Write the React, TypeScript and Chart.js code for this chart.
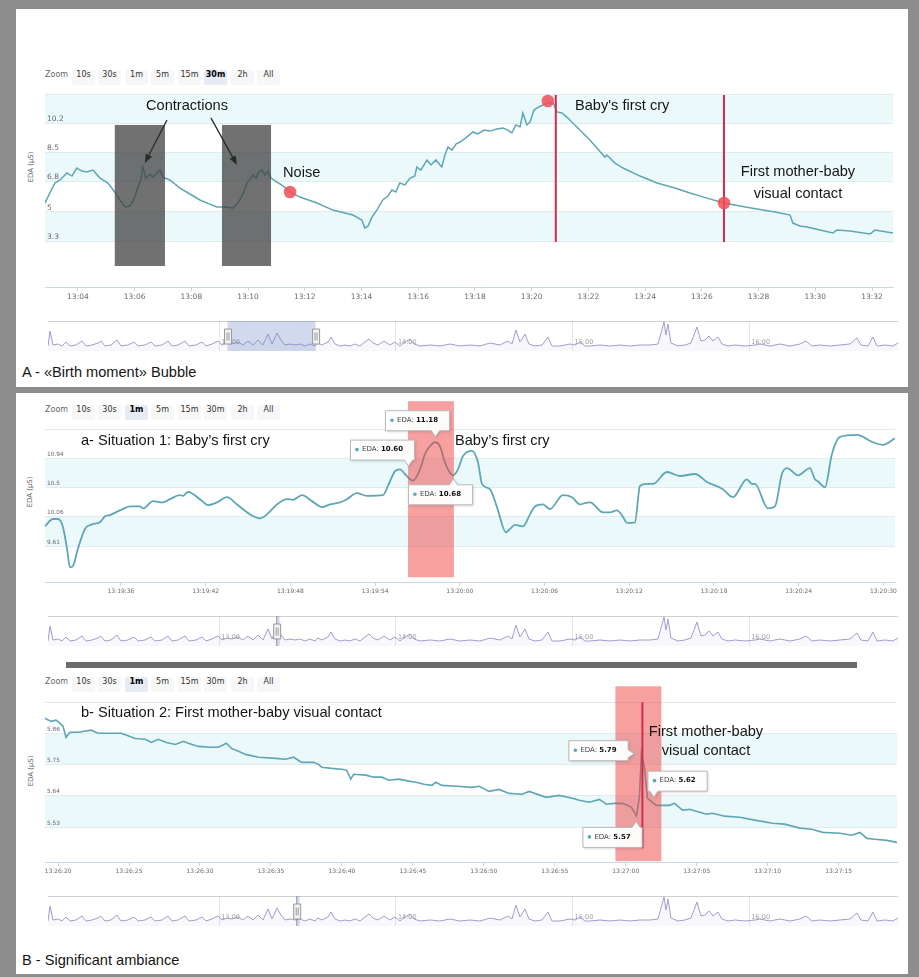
import React, { useEffect, useRef } from "react";
import { Chart, registerables } from "chart.js";

Chart.register(...registerables);
Chart.defaults.font.family = '"DejaVu Sans", sans-serif';

// ---------------- Panel A : «Birth moment» (minutes after 13:00, EDA µS)
const birthMinutes = [
  2.84, 3.01, 3.19, 3.37, 3.61, 3.79, 3.96, 4.14, 4.32, 4.53,
  4.78, 5.06, 5.3, 5.48, 5.66, 5.83, 5.97, 6.08, 6.22, 6.29,
  6.4, 6.54, 6.64, 6.79, 6.89, 7.0, 7.24, 7.6, 7.95, 8.3,
  8.65, 8.9, 9.18, 9.47, 9.61, 9.71, 9.85, 9.96, 10.06, 10.17,
  10.28, 10.38, 10.49, 10.59, 10.7, 10.81, 11.02, 11.23, 11.48, 11.83,
  12.43, 12.99, 13.7, 14.01, 14.12, 14.23, 14.37, 14.54, 14.75, 14.93,
  15.07, 15.21, 15.35, 15.53, 15.71, 15.88, 15.95, 16.09, 16.31, 16.45,
  16.62, 16.83, 16.94, 17.05, 17.19, 17.33, 17.47, 17.68, 17.93, 18.1,
  18.32, 18.53, 18.77, 18.99, 19.16, 19.3, 19.44, 19.59, 19.69, 19.83,
  19.94, 20.08, 20.18, 20.32, 20.47, 20.64, 20.78, 20.89, 21.07, 21.24,
  21.45, 21.7, 22.05, 22.3, 22.58, 22.65, 22.94, 23.22, 23.82, 24.42,
  25.05, 25.58, 26.18, 26.78, 27.34, 27.94, 28.58, 29.11, 29.21, 29.46,
  29.71, 30.16, 30.62, 30.76, 31.22, 31.93, 32.1, 32.74,
];
const birthEda = [
  5.52, 6.11, 6.69, 6.87, 7.28, 7.1, 7.57, 7.39, 7.34, 7.45,
  6.98, 6.69, 6.17, 5.7, 5.29, 5.35, 5.7, 6.28, 6.87, 7.63,
  6.98, 7.22, 7.04, 7.28, 7.45, 7.04, 6.87, 6.4, 6.05, 5.7,
  5.46, 5.29, 5.29, 5.23, 5.46, 5.7, 6.17, 6.69, 6.87, 7.16,
  6.98, 7.34, 7.45, 7.16, 7.39, 6.98, 6.75, 6.52, 6.17, 5.87,
  5.52, 5.11, 4.82, 4.53, 4.06, 4.18, 4.7, 5.11, 5.7, 5.93,
  6.28, 6.17, 6.69, 6.58, 6.98, 7.1, 7.63, 7.45, 8.04, 7.75,
  8.04, 7.63, 8.33, 8.8, 8.62, 8.97, 9.09, 9.33, 9.68, 9.56,
  9.79, 9.73, 9.85, 9.91, 9.79, 9.62, 10.09, 9.97, 10.79, 10.09,
  10.26, 10.96, 11.08, 11.2, 11.31, 11.43, 11.31, 10.85, 10.79, 10.55,
  10.2, 9.79, 9.21, 8.74, 8.21, 8.33, 7.86, 7.57, 7.1, 6.69,
  6.4, 6.11, 5.81, 5.52, 5.35, 5.17, 5.0, 4.82, 4.35, 4.18,
  4.12, 3.94, 3.77, 3.94, 3.88, 3.71, 3.94, 3.77,
];
const birthTickMinutes = [4, 6, 8, 10, 12, 14, 16, 18, 20, 22, 24, 26, 28, 30, 32];
const birthTickLabels = ["13:04", "13:06", "13:08", "13:10", "13:12", "13:14", "13:16", "13:18", "13:20", "13:22", "13:24", "13:26", "13:28", "13:30", "13:32"];
const birthYTicks = [3.3, 5, 6.8, 8.5, 10.2, 11.9];
const birthYLabels = ["3.3", "5", "6.8", "8.5", "10.2", ""];
const birthBandLow = [3.3, 6.8, 10.2];
const birthBandHigh = [5, 8.5, 11.9];
const contractionStart = [5.3, 9.08];
const contractionEnd = [7.07, 10.81];
const contractionHigh = 10.09;
const contractionLow = 1.84;
const arrowFromMin = [7.14, 8.69];
const arrowFromEda = [10.38, 10.5];
const arrowToMin = [6.36, 9.61];
const arrowToEda = [7.86, 7.75];
const birthEventMinutes = [20.85, 26.78];
const birthEventTop = 11.84;
const birthEventBottom = 3.24;
const markerMinutes = [11.48, 20.57, 26.78];
const markerEda = [6.17, 11.49, 5.52];

// ---------------- Panel B-a : first cry (seconds after 13:19:00)
const cryTimes = [
  30.62, 31.18, 31.54, 31.89, 32.18, 32.39, 32.6, 32.95, 33.45, 33.95,
  34.51, 34.87, 35.22, 35.93, 36.64, 37.35, 37.56, 38.27, 38.97, 39.47,
  40.18, 40.39, 40.75, 41.59, 42.16, 42.8, 43.51, 44.22, 45.14, 45.84,
  46.34, 47.05, 47.76, 48.18, 48.82, 49.53, 50.24, 50.8, 51.51, 52.01,
  52.71, 53.42, 54.56, 54.91, 55.4, 55.76, 56.11, 56.68, 57.18, 57.53,
  57.88, 58.24, 58.59, 58.88, 59.16, 59.51, 59.87, 60.22, 60.86, 61.28,
  61.57, 62.13, 62.63, 63.27, 63.55, 63.9, 64.47, 64.97, 65.32, 65.89,
  66.38, 67.3, 67.94, 68.51, 68.86, 69.22, 70.14, 70.64, 71.13, 71.56,
  71.84, 72.4, 72.76, 73.25, 73.68, 74.67, 75.59, 76.65, 77.5, 78.63,
  79.34, 80.33, 80.69, 80.9, 81.82, 82.32, 82.81, 83.17, 83.95, 84.8,
  85.15, 85.36, 85.86, 86.35, 86.92, 88.12, 89.26, 89.97, 90.82,
];
const cryEda = [
  9.91, 10.02, 10.02, 9.9, 9.57, 9.29, 9.31, 9.57, 9.87, 9.94,
  9.97, 10.06, 10.08, 10.15, 10.21, 10.21, 10.18, 10.29, 10.27, 10.32,
  10.38, 10.37, 10.43, 10.32, 10.23, 10.27, 10.35, 10.24, 10.09, 10.03,
  10.09, 10.24, 10.32, 10.31, 10.38, 10.29, 10.2, 10.24, 10.27, 10.32,
  10.41, 10.37, 10.38, 10.52, 10.74, 10.77, 10.7, 10.6, 10.77, 11.0,
  11.12, 11.18, 11.12, 10.92, 10.77, 10.68, 10.77, 10.97, 11.05, 10.88,
  10.55, 10.47, 10.2, 9.82, 9.87, 9.93, 9.91, 10.09, 10.21, 10.24,
  10.17, 10.38, 10.35, 10.24, 10.26, 10.27, 10.12, 10.12, 10.15, 10.05,
  9.96, 9.97, 10.52, 10.55, 10.55, 10.73, 10.67, 10.7, 10.58, 10.47,
  10.35, 10.62, 10.55, 10.55, 10.18, 10.21, 10.7, 10.79, 10.68, 10.79,
  10.62, 10.59, 10.5, 11.0, 11.26, 11.29, 11.18, 11.14, 11.24,
];
const cryTickSeconds = [36, 42, 48, 54, 60, 66, 72, 78, 84, 90];
const cryTickLabels = ["13:19:36", "13:19:42", "13:19:48", "13:19:54", "13:20:00", "13:20:06", "13:20:12", "13:20:18", "13:20:24", "13:20:30"];
const cryYTicks = [9.61, 10.06, 10.5, 10.94, 11.38];
const cryYLabels = ["9.61", "10.06", "10.5", "10.94", ""];
const cryBandLow = [9.61, 10.5];
const cryBandHigh = [10.06, 10.94];
const cryHighlight = [56.33, 59.58];
const cryHighlightEda = [9.14, 11.8];
const cryTipTimes = [58.24, 56.68, 59.51];
const cryTipEda = [11.18, 10.6, 10.68];

// ---------------- Panel B-b : first visual contact (seconds after 13:26:00)
const contactTimes = [
  19.08, 19.51, 19.86, 20.14, 20.35, 20.56, 20.85, 21.41, 22.33, 22.82,
  24.45, 25.44, 26.14, 26.57, 27.06, 27.63, 28.26, 28.83, 29.18, 29.89,
  30.73, 31.3, 31.86, 32.22, 32.71, 33.21, 34.12, 35.32, 36.03, 36.6,
  37.16, 38.01, 38.36, 38.57, 39.28, 39.99, 40.34, 40.62, 40.83, 41.68,
  42.25, 42.81, 43.31, 44.01, 44.72, 45.21, 45.78, 46.34, 46.62, 47.05,
  48.11, 49.17, 49.66, 50.37, 51.07, 51.78, 52.7, 53.19, 54.39, 55.31,
  56.23, 56.72, 57.43, 58.14, 58.63, 59.2, 59.76, 60.11, 60.4, 60.75,
  60.96, 61.1, 61.31, 61.53, 61.81, 62.16, 63.08, 63.43, 64.0, 64.49,
  65.2, 65.69, 66.12, 66.96, 68.02, 69.08, 70.35, 71.2, 72.26, 73.11,
  73.88, 75.08, 75.93, 76.5, 76.99, 77.56, 78.4, 79.11,
];
const contactEda = [
  5.913, 5.902, 5.906, 5.895, 5.885, 5.846, 5.864, 5.864, 5.871, 5.86,
  5.86, 5.842, 5.839, 5.828, 5.839, 5.828, 5.821, 5.832, 5.825, 5.814,
  5.811, 5.811, 5.825, 5.807, 5.797, 5.786, 5.776, 5.772, 5.769, 5.776,
  5.758, 5.758, 5.751, 5.741, 5.737, 5.734, 5.73, 5.699, 5.716, 5.713,
  5.706, 5.706, 5.695, 5.699, 5.692, 5.688, 5.681, 5.677, 5.688, 5.677,
  5.674, 5.67, 5.674, 5.656, 5.663, 5.649, 5.646, 5.656, 5.635, 5.642,
  5.632, 5.625, 5.618, 5.628, 5.611, 5.614, 5.614, 5.607, 5.6, 5.57,
  5.635, 5.79, 5.741, 5.632, 5.62, 5.607, 5.607, 5.614, 5.59, 5.593,
  5.583, 5.576, 5.579, 5.569, 5.565, 5.555, 5.544, 5.541, 5.527, 5.523,
  5.512, 5.509, 5.502, 5.512, 5.491, 5.488, 5.484, 5.477,
];
const contactTickSeconds = [20, 25, 30, 35, 40, 45, 50, 55, 60, 65, 70, 75];
const contactTickLabels = ["13:26:20", "13:26:25", "13:26:30", "13:26:35", "13:26:40", "13:26:45", "13:26:50", "13:26:55", "13:27:00", "13:27:05", "13:27:10", "13:27:15"];
const contactYTicks = [5.53, 5.64, 5.75, 5.86, 5.97];
const contactYLabels = ["5.53", "5.64", "5.75", "5.86", ""];
const contactBandLow = [5.53, 5.75];
const contactBandHigh = [5.64, 5.86];
const contactHighlight = [59.27, 62.51];
const contactHighlightEda = [5.411, 6.025];
const contactEventSecond = 61.17;
const contactEventEda = [5.456, 5.969];
const contactTipTimes = [61.1, 61.81, 60.75];
const contactTipEda = [5.79, 5.62, 5.57];

// ---------------- Navigator (minutes after 12:00, arbitrary height)
const navMinutes = [
  1.87, 2.55, 3.57, 5.26, 6.62, 7.98, 9.34, 11.38, 13.42, 14.77,
  16.81, 18.85, 19.86, 21.22, 23.26, 25.3, 26.66, 29.03, 31.07, 32.43,
  34.81, 36.84, 38.2, 40.58, 42.62, 43.97, 46.01, 48.39, 49.75, 52.12,
  54.16, 55.52, 57.56, 59.59, 60.95, 62.65, 64.35, 66.38, 68.08, 69.78,
  71.48, 73.17, 74.87, 76.57, 77.93, 79.63, 80.98, 82.34, 84.04, 85.74,
  87.44, 89.13, 90.83, 92.53, 93.55, 94.91, 96.95, 97.97, 99.32, 101.02,
  102.72, 104.41, 106.11, 107.81, 109.51, 110.87, 112.22, 113.92, 115.96, 118.0,
  119.69, 121.39, 123.09, 124.79, 126.15, 128.18, 131.58, 134.97, 138.37, 141.77,
  145.16, 148.56, 151.95, 155.35, 158.06, 159.42, 160.78, 162.14, 163.84, 165.2,
  167.23, 169.61, 171.65, 173.0, 175.72, 179.12, 180.82, 182.51, 184.21, 185.91,
  189.3, 192.7, 196.09, 199.49, 202.89, 206.28, 209.0, 211.04, 211.71, 212.39,
  213.41, 215.79, 218.17, 220.2, 222.24, 223.6, 224.96, 226.32, 227.67, 229.37,
  230.73, 232.77, 235.14, 238.54, 241.94, 243.63, 247.03, 250.42, 253.82, 257.21,
  259.25, 261.29, 264.01, 267.4, 270.8, 274.19, 276.57, 277.93, 280.31, 282.0,
  283.36, 286.08, 288.79, 290.5,
];
const navValues = [
  5, 20, 6, 7, 5, 9, 5, 6, 10, 5,
  6, 8, 10, 5, 6, 11, 5, 6, 9, 5,
  6, 9, 5, 6, 10, 5, 6, 10, 5, 6,
  9, 5, 7, 10, 6, 8, 7, 9, 6, 10,
  6, 11, 6, 17, 7, 18, 11, 6, 7, 6,
  7, 5, 7, 5, 8, 6, 9, 14, 7, 5,
  6, 5, 7, 5, 9, 12, 8, 6, 10, 6,
  9, 5, 9, 12, 7, 5, 6, 5, 7, 5,
  6, 5, 8, 6, 10, 7, 21, 9, 17, 7,
  5, 6, 14, 5, 5, 7, 6, 9, 5, 5,
  6, 5, 6, 5, 6, 6, 7, 29, 16, 27,
  8, 5, 6, 8, 24, 10, 11, 15, 10, 14,
  7, 5, 6, 5, 6, 7, 5, 7, 5, 7,
  10, 5, 6, 5, 6, 7, 13, 6, 5, 14,
  5, 6, 5, 8,
];
const navHourMinutes = [60, 120, 180, 240];
const navHourLabels = ["13:00", "14:00", "15:00", "16:00"];
const navRangeA = [62.84, 92.74];
const navRangeCry = [79.51, 80.51];
const navRangeContact = [86.32, 87.32];

// ---------------- styles / layout
const LINE = "#5ea6b5";
const BAND = "#ecf9fb";
const GRID = "#e0ebee";
const AXIS = "#ccd6eb";
const RED_LINE = "#d22b4a";
const NOTE_FONT = '14.6px "Liberation Sans", Arial, sans-serif';
const ZOOM_BUTTONS = ["10s", "30s", "1m", "5m", "15m", "30m", "2h", "All"];
const BTN_X = [72, 98, 125, 151, 178, 204, 231, 257];
// tooltip box offset from its point (px)
const CRY_TIP_OFFSET = [[-50, -32], [-63, -41], [-45, 9]];
const CONTACT_TIP_OFFSET = [[-73, -13], [-4, -31], [-54, 11]];

function drawTip(ctx: CanvasRenderingContext2D, px: number, py: number, bx: number, by: number, value: string) {
  ctx.save();
  ctx.font = '7px "DejaVu Sans"';
  const wl = ctx.measureText("EDA: ").width;
  ctx.font = 'bold 7px "DejaVu Sans"';
  const wv = ctx.measureText(value).width;
  const w = 15 + wl + wv + 8;
  const h = 20;
  const L = bx, R = bx + w, T = by, B = by + h;
  const hw = 4, len = 6;
  const clamp = (v: number, a: number, b: number) => Math.max(a, Math.min(b, v));
  const pts: number[][] = [[L, T]];
  if (py < T) {
    const cx = clamp(px, L + hw + 2, R - hw - 2);
    pts.push([cx - hw, T], [cx, T - len], [cx + hw, T]);
  }
  pts.push([R, T]);
  if (px > R && py >= T && py <= B) {
    const cy = clamp(py, T + hw + 2, B - hw - 2);
    pts.push([R, cy - hw], [R + len, cy], [R, cy + hw]);
  }
  pts.push([R, B]);
  if (py > B) {
    const cx = clamp(px, L + hw + 2, R - hw - 2);
    pts.push([cx + hw, B], [cx, B + len], [cx - hw, B]);
  }
  pts.push([L, B]);
  if (px < L && py >= T && py <= B) {
    const cy = clamp(py, T + hw + 2, B - hw - 2);
    pts.push([L, cy + hw], [L - len, cy], [L, cy - hw]);
  }
  ctx.beginPath();
  pts.forEach((p, i) => (i ? ctx.lineTo(p[0] + 0.5, p[1] + 0.5) : ctx.moveTo(p[0] + 0.5, p[1] + 0.5)));
  ctx.closePath();
  ctx.shadowColor = "rgba(0,0,0,0.2)";
  ctx.shadowBlur = 3;
  ctx.shadowOffsetX = 1;
  ctx.shadowOffsetY = 1;
  ctx.fillStyle = "rgba(255,255,255,0.96)";
  ctx.fill();
  ctx.shadowColor = "transparent";
  ctx.strokeStyle = "#b9b9b9";
  ctx.lineWidth = 1;
  ctx.stroke();
  const my = T + h / 2;
  ctx.fillStyle = LINE;
  ctx.beginPath();
  ctx.arc(L + 7, my, 1.8, 0, Math.PI * 2);
  ctx.fill();
  ctx.textBaseline = "middle";
  ctx.fillStyle = "#444";
  ctx.font = '7px "DejaVu Sans"';
  ctx.fillText("EDA: ", L + 12, my);
  ctx.fillStyle = "#111";
  ctx.font = 'bold 7px "DejaVu Sans"';
  ctx.fillText(value, L + 12 + wl, my);
  ctx.restore();
}

function drawArrow(ctx: CanvasRenderingContext2D, ax: number, ay: number, bx: number, by: number) {
  const ang = Math.atan2(by - ay, bx - ax);
  const hl = 9, hw = 3.5;
  const ex = bx - hl * Math.cos(ang), ey = by - hl * Math.sin(ang);
  ctx.beginPath();
  ctx.moveTo(ax, ay);
  ctx.lineTo(ex, ey);
  ctx.stroke();
  ctx.beginPath();
  ctx.moveTo(bx, by);
  ctx.lineTo(ex + hw * Math.sin(ang), ey - hw * Math.cos(ang));
  ctx.lineTo(ex - hw * Math.sin(ang), ey + hw * Math.cos(ang));
  ctx.closePath();
  ctx.fill();
}

function bandsPlugin(low: number[], high: number[]) {
  return {
    id: "bands",
    beforeDraw(chart: any) {
      const { ctx, chartArea, scales } = chart;
      const y = scales.y;
      ctx.save();
      ctx.fillStyle = BAND;
      low.forEach((lo, i) => {
        const y0 = y.getPixelForValue(high[i]);
        const y1 = y.getPixelForValue(lo);
        ctx.fillRect(chartArea.left, y0, chartArea.right - chartArea.left, y1 - y0);
      });
      ctx.restore();
    },
  };
}

interface MainOpts {
  xs: number[]; ys: number[];
  xMin: number; xMax: number; xTicks: number[]; xLabels: string[];
  yMin: number; yMax: number; yTicks: number[]; yLabels: string[];
  bandLow: number[]; bandHigh: number[];
  padding: { left: number; right: number; top: number; bottom: number };
  xFont: number; yFont: number; lineWidth: number; smooth: boolean;
  overlay: (chart: any) => void;
}

function mainConfig(o: MainOpts): any {
  return {
    type: "line",
    data: {
      datasets: [{
        data: o.xs.map((x, i) => ({ x, y: o.ys[i] })),
        borderColor: LINE,
        borderWidth: o.lineWidth,
        pointRadius: 0,
        fill: false,
        tension: o.smooth ? 0.4 : 0,
        cubicInterpolationMode: o.smooth ? "monotone" : "default",
      }],
    },
    options: {
      animation: false,
      responsive: true,
      maintainAspectRatio: false,
      events: [],
      layout: { padding: o.padding },
      plugins: { legend: { display: false }, tooltip: { enabled: false } },
      scales: {
        x: {
          type: "linear", min: o.xMin, max: o.xMax,
          afterBuildTicks: (s: any) => { s.ticks = o.xTicks.map((v) => ({ value: v })); },
          afterFit: (s: any) => { s.height = 20; },
          grid: { display: true, drawOnChartArea: false, drawTicks: true, tickLength: 4, color: AXIS },
          border: { display: true, color: AXIS },
          ticks: {
            autoSkip: false, maxRotation: 0, minRotation: 0, padding: 2, color: "#6a6a6a",
            font: { size: o.xFont },
            callback: (_v: any, i: number) => o.xLabels[i] ?? "",
          },
        },
        y: {
          type: "linear", min: o.yMin, max: o.yMax,
          afterBuildTicks: (s: any) => { s.ticks = o.yTicks.map((v) => ({ value: v })); },
          afterFit: (s: any) => { s.width = 0; },
          grid: { color: GRID, drawTicks: false },
          border: { display: false },
          ticks: {
            mirror: true, padding: 2, labelOffset: -4, color: "#6a6a6a",
            font: { size: o.yFont },
            callback: (_v: any, i: number) => o.yLabels[i] ?? "",
          },
        },
      },
    },
    plugins: [bandsPlugin(o.bandLow, o.bandHigh), { id: "overlay", afterDatasetsDraw: o.overlay }],
  };
}

function navConfig(range: number[]): any {
  return {
    type: "line",
    data: {
      datasets: [{
        data: navMinutes.map((x, i) => ({ x, y: navValues[i] })),
        borderColor: "#a69ad0",
        borderWidth: 1,
        pointRadius: 0,
        tension: 0,
        fill: "origin",
        backgroundColor: "rgba(166,154,208,0.08)",
      }],
    },
    options: {
      animation: false,
      responsive: true,
      maintainAspectRatio: false,
      events: [],
      layout: { padding: { left: 32, right: 10, top: 7, bottom: 7 } },
      plugins: { legend: { display: false }, tooltip: { enabled: false } },
      scales: {
        x: {
          type: "linear", min: 1.87, max: 290.5,
          afterBuildTicks: (s: any) => { s.ticks = navHourMinutes.map((v) => ({ value: v })); },
          afterFit: (s: any) => { s.height = 0; },
          grid: { color: "#e6e6e6", drawTicks: false, drawOnChartArea: true },
          border: { display: false },
          ticks: { display: false },
        },
        y: { display: false, min: 0, max: 30 },
      },
    },
    plugins: [{
      id: "navOverlay",
      afterDatasetsDraw(chart: any) {
        const { ctx, chartArea, scales } = chart;
        const { left, right, top, bottom } = chartArea;
        const x = scales.x;
        ctx.save();
        // hour labels, placed through the navigator's x scale
        ctx.fillStyle = "#a0a0a0";
        ctx.font = '6.5px "DejaVu Sans"';
        ctx.textBaseline = "middle";
        ctx.textAlign = "left";
        navHourMinutes.forEach((m, i) => {
          ctx.fillText(navHourLabels[i], x.getPixelForValue(m) + 2, bottom - 9);
        });
        ctx.strokeStyle = "#cfcfcf";
        ctx.lineWidth = 1;
        ctx.beginPath();
        ctx.moveTo(left, top + 0.5);
        ctx.lineTo(right, top + 0.5);
        ctx.stroke();
        const x0 = x.getPixelForValue(range[0]);
        const x1 = Math.max(x.getPixelForValue(range[1]), x0 + 2);
        ctx.fillStyle = "rgba(102,133,194,0.3)";
        ctx.fillRect(x0, top, x1 - x0, bottom - top);
        const narrow = x1 - x0 < 6;
        if (narrow) {
          ctx.strokeStyle = "#9a9a9a";
          ctx.beginPath();
          ctx.moveTo(x0, top);
          ctx.lineTo(x0, bottom);
          ctx.stroke();
        }
        const hs = narrow ? [x0] : [x0, x1];
        hs.forEach((hx) => {
          const hwid = 7, hh = 15, hy = (top + bottom) / 2 - hh / 2;
          ctx.fillStyle = "#f2f2f2";
          ctx.strokeStyle = "#999";
          ctx.beginPath();
          ctx.rect(hx - hwid / 2 + 0.5, hy + 0.5, hwid, hh);
          ctx.fill();
          ctx.stroke();
          ctx.beginPath();
          ctx.moveTo(hx - 0.5, hy + 4);
          ctx.lineTo(hx - 0.5, hy + hh - 3);
          ctx.moveTo(hx + 1.5, hy + 4);
          ctx.lineTo(hx + 1.5, hy + hh - 3);
          ctx.stroke();
        });
        ctx.restore();
      },
    }],
  };
}

function overlayBirth(chart: any) {
  const { ctx, scales } = chart;
  const x = scales.x, y = scales.y;
  ctx.save();
  ctx.fillStyle = "rgba(64,64,64,0.74)";
  contractionStart.forEach((s, i) => {
    const x0 = x.getPixelForValue(s), x1 = x.getPixelForValue(contractionEnd[i]);
    const y0 = y.getPixelForValue(contractionHigh), y1 = y.getPixelForValue(contractionLow);
    ctx.fillRect(x0, y0, x1 - x0, y1 - y0);
  });
  ctx.strokeStyle = "#2a2a2a";
  ctx.fillStyle = "#2a2a2a";
  ctx.lineWidth = 1.3;
  arrowFromMin.forEach((m, i) => {
    drawArrow(ctx, x.getPixelForValue(m), y.getPixelForValue(arrowFromEda[i]), x.getPixelForValue(arrowToMin[i]), y.getPixelForValue(arrowToEda[i]));
  });
  ctx.strokeStyle = RED_LINE;
  ctx.lineWidth = 2;
  birthEventMinutes.forEach((m) => {
    const px = x.getPixelForValue(m);
    ctx.beginPath();
    ctx.moveTo(px, y.getPixelForValue(birthEventTop));
    ctx.lineTo(px, y.getPixelForValue(birthEventBottom));
    ctx.stroke();
  });
  ctx.fillStyle = "rgba(240,78,88,0.85)";
  markerMinutes.forEach((m, i) => {
    ctx.beginPath();
    ctx.arc(x.getPixelForValue(m), y.getPixelForValue(markerEda[i]), 6.3, 0, Math.PI * 2);
    ctx.fill();
  });
  ctx.restore();
}

function overlayCry(chart: any) {
  const { ctx, scales } = chart;
  const x = scales.x, y = scales.y;
  ctx.save();
  ctx.fillStyle = "rgba(240,65,65,0.5)";
  const x0 = x.getPixelForValue(cryHighlight[0]), x1 = x.getPixelForValue(cryHighlight[1]);
  const y0 = y.getPixelForValue(cryHighlightEda[1]), y1 = y.getPixelForValue(cryHighlightEda[0]);
  ctx.fillRect(x0, y0, x1 - x0, y1 - y0);
  ctx.restore();
  cryTipTimes.forEach((t, i) => {
    const px = x.getPixelForValue(t), py = y.getPixelForValue(cryTipEda[i]);
    drawTip(ctx, px, py, px + CRY_TIP_OFFSET[i][0], py + CRY_TIP_OFFSET[i][1], cryTipEda[i].toFixed(2));
  });
}

function overlayContact(chart: any) {
  const { ctx, scales } = chart;
  const x = scales.x, y = scales.y;
  ctx.save();
  ctx.fillStyle = "rgba(240,65,65,0.5)";
  const x0 = x.getPixelForValue(contactHighlight[0]), x1 = x.getPixelForValue(contactHighlight[1]);
  const y0 = y.getPixelForValue(contactHighlightEda[1]), y1 = y.getPixelForValue(contactHighlightEda[0]);
  ctx.fillRect(x0, y0, x1 - x0, y1 - y0);
  ctx.strokeStyle = RED_LINE;
  ctx.lineWidth = 2;
  const lx = x.getPixelForValue(contactEventSecond);
  ctx.beginPath();
  ctx.moveTo(lx, y.getPixelForValue(contactEventEda[1]));
  ctx.lineTo(lx, y.getPixelForValue(contactEventEda[0]));
  ctx.stroke();
  ctx.restore();
  contactTipTimes.forEach((t, i) => {
    const px = x.getPixelForValue(t), py = y.getPixelForValue(contactTipEda[i]);
    drawTip(ctx, px, py, px + CONTACT_TIP_OFFSET[i][0], py + CONTACT_TIP_OFFSET[i][1], contactTipEda[i].toFixed(2));
  });
}

function ChartBox(props: { left: number; top: number; width: number; height: number; make: () => any }) {
  const ref = useRef<HTMLCanvasElement | null>(null);
  useEffect(() => {
    if (!ref.current) return;
    const chart = new Chart(ref.current, props.make());
    return () => chart.destroy();
  }, []);
  return (
    <div style={{ position: "absolute", left: props.left, top: props.top, width: props.width, height: props.height }}>
      <canvas ref={ref} />
    </div>
  );
}

function ZoomBar({ top, selected }: { top: number; selected: string }) {
  return (
    <>
      <div style={{ position: "absolute", left: 45, top, height: 15, lineHeight: "15px", font: '8px "DejaVu Sans", sans-serif', color: "#666" }}>Zoom</div>
      {ZOOM_BUTTONS.map((b, i) => (
        <div
          key={b}
          style={{
            position: "absolute", left: BTN_X[i], top, width: 23, height: 15, lineHeight: "15px",
            textAlign: "center", borderRadius: 2,
            background: b === selected ? "#e6ebf5" : "#f7f7f7",
            font: `${b === selected ? "bold " : ""}8px "DejaVu Sans", sans-serif`,
            color: b === selected ? "#000" : "#333",
          }}
        >{b}</div>
      ))}
    </>
  );
}

function AxisTitle({ x, y }: { x: number; y: number }) {
  return (
    <div style={{
      position: "absolute", left: x, top: y, transform: "translate(-50%, -50%) rotate(-90deg)",
      font: '7px "DejaVu Sans", sans-serif', color: "#666", whiteSpace: "nowrap",
    }}>EDA (μS)</div>
  );
}

function Note(props: { left: number; top: number; width?: number; center?: boolean; lh?: number; children: React.ReactNode }) {
  return (
    <div style={{
      position: "absolute", left: props.left, top: props.top, width: props.width,
      textAlign: props.center ? "center" : "left", font: NOTE_FONT,
      lineHeight: `${props.lh ?? 17}px`, color: "#151515", whiteSpace: "nowrap", zIndex: 3,
    }}>{props.children}</div>
  );
}

export default function App() {
  return (
    <div style={{ position: "absolute", left: 0, top: 0, width: 919, height: 977, background: "#8d8d8d", overflow: "hidden" }}>
      <div style={{ position: "absolute", left: 16, top: 9, width: 892, height: 378, background: "#fff" }} />
      <div style={{ position: "absolute", left: 16, top: 393, width: 892, height: 581, background: "#fff" }} />

      <ZoomBar top={70} selected="30m" />
      <ZoomBar top={405} selected="1m" />
      <ZoomBar top={677} selected="1m" />
      <AxisTitle x={31} y={167} />
      <AxisTitle x={30} y={492} />
      <AxisTitle x={31} y={771} />

      <ChartBox left={16} top={86} width={892} height={222} make={() => mainConfig({
        xs: birthMinutes, ys: birthEda, xMin: 2.84, xMax: 32.74, xTicks: birthTickMinutes, xLabels: birthTickLabels,
        yMin: 0.61, yMax: 11.9, yTicks: birthYTicks, yLabels: birthYLabels,
        bandLow: birthBandLow, bandHigh: birthBandHigh,
        padding: { left: 29, right: 15, top: 8, bottom: 1 },
        xFont: 7.5, yFont: 7.5, lineWidth: 1.5, smooth: false, overlay: overlayBirth,
      })} />
      <ChartBox left={16} top={314} width={892} height={44} make={() => navConfig(navRangeA)} />

      <ChartBox left={16} top={396} width={892} height={206} make={() => mainConfig({
        xs: cryTimes, ys: cryEda, xMin: 30.62, xMax: 90.82, xTicks: cryTickSeconds, xLabels: cryTickLabels,
        yMin: 9.068, yMax: 11.38, yTicks: cryYTicks, yLabels: cryYLabels,
        bandLow: cryBandLow, bandHigh: cryBandHigh,
        padding: { left: 29, right: 13, top: 33, bottom: 0 },
        xFont: 6, yFont: 5.8, lineWidth: 1.8, smooth: true, overlay: overlayCry,
      })} />
      <ChartBox left={16} top={609} width={892} height={44} make={() => navConfig(navRangeCry)} />

      <div style={{ position: "absolute", left: 66, top: 662, width: 791, height: 6, background: "#6b6b6b" }} />

      <ChartBox left={16} top={680} width={892} height={202} make={() => mainConfig({
        xs: contactTimes, ys: contactEda, xMin: 19.08, xMax: 79.11, xTicks: contactTickSeconds, xLabels: contactTickLabels,
        yMin: 5.408, yMax: 5.97, yTicks: contactYTicks, yLabels: contactYLabels,
        bandLow: contactBandLow, bandHigh: contactBandHigh,
        padding: { left: 29, right: 11, top: 22, bottom: 0 },
        xFont: 6, yFont: 5.8, lineWidth: 1.6, smooth: false, overlay: overlayContact,
      })} />
      <ChartBox left={16} top={889} width={892} height={44} make={() => navConfig(navRangeContact)} />

      <Note left={146} top={97}>Contractions</Note>
      <Note left={283} top={164}>Noise</Note>
      <Note left={575} top={97}>Baby's first cry</Note>
      <Note left={718} top={160} width={160} center lh={22}>First mother-baby<br />visual contact</Note>
      <Note left={22} top={364}>A - «Birth moment» Bubble</Note>

      <Note left={81} top={432}>a- Situation 1: Baby’s first cry</Note>
      <Note left={455} top={432}>Baby’s first cry</Note>
      <Note left={81} top={704}>b- Situation 2: First mother-baby visual contact</Note>
      <Note left={626} top={722} width={160} center lh={19}>First mother-baby<br />visual contact</Note>
      <Note left={22} top={952}>B - Significant ambiance</Note>
    </div>
  );
}
